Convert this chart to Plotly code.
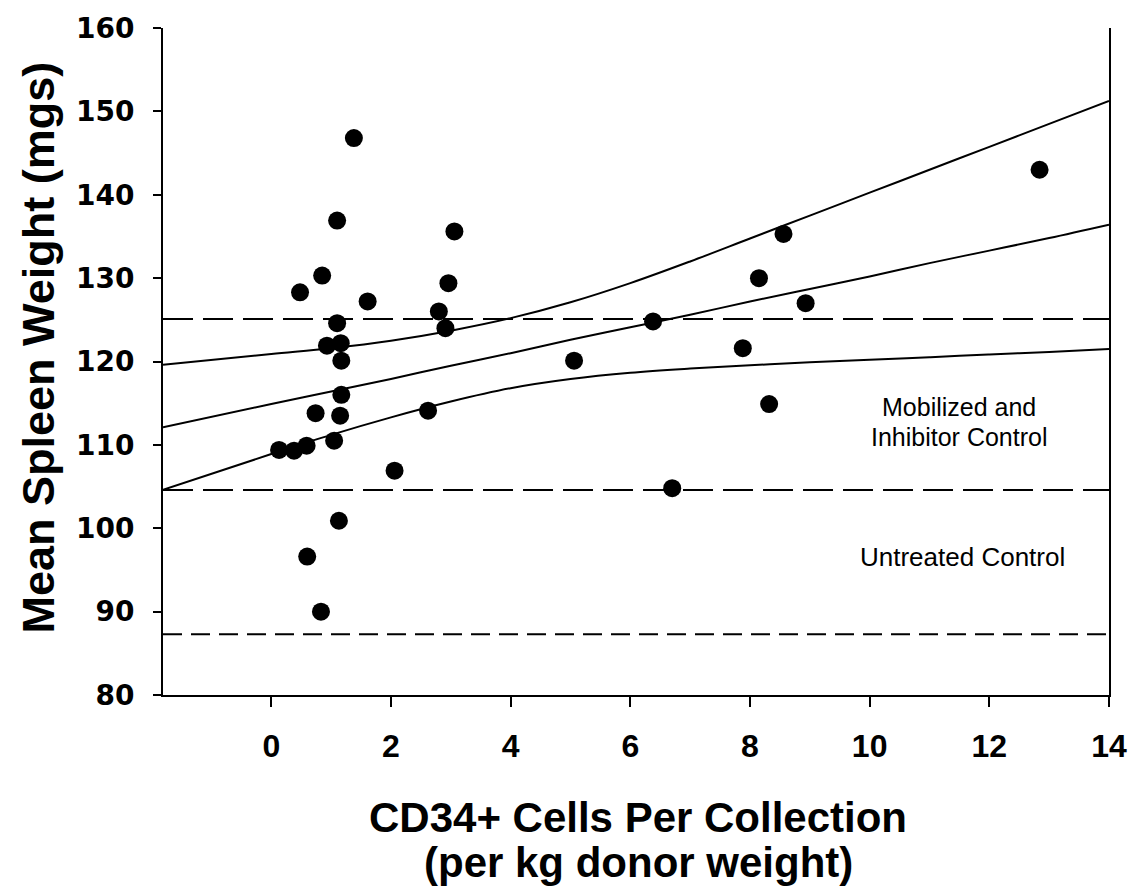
import plotly.graph_objects as go

# ---- data ----
cd34 = [1.38, 1.10, 3.06, 0.85, 0.48, 1.61, 2.96, 2.80, 1.10, 2.91,
        0.93, 1.16, 1.17, 1.17, 0.74, 1.15, 1.05, 0.13, 0.38, 0.59,
        2.62, 2.06, 1.13, 0.60, 0.83, 8.56, 8.15, 8.93, 6.38, 5.06,
        7.88, 8.32, 6.70, 12.84]
spleen = [146.8, 136.9, 135.6, 130.3, 128.3, 127.2, 129.4, 126.0, 124.6, 124.0,
          121.9, 122.2, 120.1, 116.0, 113.8, 113.5, 110.5, 109.4, 109.3, 109.9,
          114.1, 106.9, 100.9, 96.6, 90.0, 135.3, 130.0, 127.0, 124.8, 120.1,
          121.6, 114.9, 104.8, 143.0]

curve_x = [-1.81, 0, 1, 2, 3, 4, 5, 6, 7, 8, 9, 10, 11, 12, 13, 14]
fit_y = [112.1, 114.9, 116.4, 117.9, 119.5, 121.0, 122.6, 124.1,
         125.6, 127.2, 128.7, 130.2, 131.8, 133.3, 134.8, 136.4]
ci_upper = [119.6, 120.9, 121.6, 122.5, 123.7, 125.2, 127.1, 129.4,
            132.0, 134.75, 137.5, 140.25, 143.0, 145.75, 148.5, 151.25]
ci_lower = [104.6, 108.9, 111.2, 113.3, 115.2, 116.8, 117.9, 118.65,
            119.15, 119.55, 119.9, 120.2, 120.5, 120.85, 121.15, 121.5]

control_levels = [125.1, 104.6, 87.3]
control_dashes = ["30px,10px", "30px,10px", "19px,9px"]

x_range = [-1.81, 14]
y_range = [80, 160]
x_ticks = [0, 2, 4, 6, 8, 10, 12, 14]
y_ticks = [80, 90, 100, 110, 120, 130, 140, 150, 160]

x_title_lines = ["CD34+ Cells Per Collection", "(per kg donor weight)"]
y_title = "Mean Spleen Weight (mgs)"
label_mobilized = ["Mobilized and", "Inhibitor Control"]
label_untreated = "Untreated Control"

fig = go.Figure()

for lvl, dsh in zip(control_levels, control_dashes):
    fig.add_trace(go.Scatter(x=x_range, y=[lvl, lvl], mode="lines",
                             line=dict(color="black", width=2, dash=dsh),
                             hoverinfo="skip", showlegend=False))

for ys in (ci_upper, fit_y, ci_lower):
    fig.add_trace(go.Scatter(x=curve_x, y=ys, mode="lines",
                             line=dict(color="black", width=2, shape="spline", smoothing=1.0),
                             hoverinfo="skip", showlegend=False))

fig.add_trace(go.Scatter(x=cd34, y=spleen, mode="markers",
                         marker=dict(color="black", size=18, line=dict(width=0)),
                         showlegend=False))

sans = "Liberation Sans, Arial, Helvetica, sans-serif"

fig.update_layout(
    width=1139, height=888,
    margin=dict(l=163, r=25, t=24, b=193),
    plot_bgcolor="white", paper_bgcolor="white",
    showlegend=False,
    xaxis=dict(range=x_range, tickvals=x_ticks, ticktext=[str(v) for v in x_ticks],
               showline=True, linecolor="black", linewidth=2,
               ticks="outside", ticklen=10, tickwidth=2, tickcolor="black",
               showgrid=False, zeroline=False, ticklabelstandoff=12,
               tickfont=dict(family=sans, size=32, color="black", weight="bold")),
    yaxis=dict(range=y_range, tickvals=y_ticks,
               showline=True, mirror=True, linecolor="black", linewidth=2,
               ticks="outside", ticklen=8, tickwidth=2, tickcolor="black",
               showgrid=False, zeroline=False, ticklabelstandoff=13,
               tickfont=dict(family="DejaVu Sans", size=28, color="black", weight="bold")),
)

# axis titles as annotations
fig.add_annotation(text=y_title, xref="paper", yref="paper", x=0, y=0.5,
                   xanchor="center", yanchor="middle", xshift=-125, yshift=14,
                   textangle=-90, showarrow=False,
                   font=dict(family=sans, size=45, color="black", weight="bold"))
fig.add_annotation(text=x_title_lines[0], xref="paper", yref="paper", x=0.5, y=0,
                   xanchor="center", yanchor="middle", xshift=2, yshift=-122,
                   showarrow=False,
                   font=dict(family=sans, size=42, color="black", weight="bold"))
fig.add_annotation(text=x_title_lines[1], xref="paper", yref="paper", x=0.5, y=0,
                   xanchor="center", yanchor="middle", xshift=2, yshift=-167,
                   showarrow=False,
                   font=dict(family=sans, size=42, color="black", weight="bold"))

# region labels
fig.add_annotation(text=label_mobilized[0], x=11.5, y=114.5, xanchor="center", yanchor="middle",
                   showarrow=False, font=dict(family=sans, size=25, color="black"))
fig.add_annotation(text=label_mobilized[1], x=11.5, y=110.9, xanchor="center", yanchor="middle",
                   showarrow=False, font=dict(family=sans, size=25, color="black"))
fig.add_annotation(text=label_untreated, x=11.55, y=96.5, xanchor="center", yanchor="middle",
                   showarrow=False, font=dict(family=sans, size=26, color="black"))

fig.write_html("out.html", config={"displayModeBar": False},
               post_script="document.body.style.margin='0';")
